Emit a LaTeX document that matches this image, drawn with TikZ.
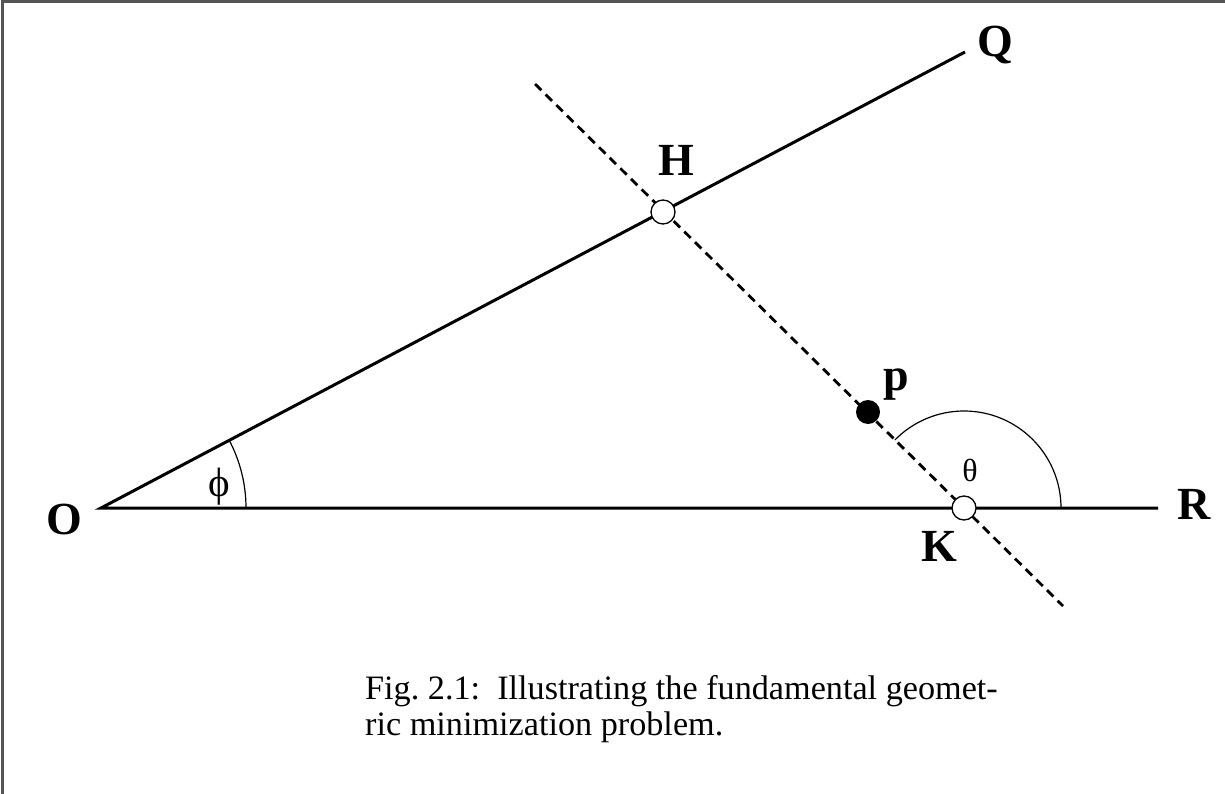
\documentclass[tikz,border=0pt]{standalone}
\usepackage{fontspec}
\setmainfont{Liberation Serif}
\definecolor{framecol}{HTML}{555555}
\tikzset{
  mainline/.style={line width=3pt, line cap=butt},
  dashline/.style={line width=2.8pt, dash pattern=on 9pt off 6pt},
  anglearc/.style={line width=1.2pt},
  opendot/.style={circle, draw, fill=white, line width=1.3pt, minimum size=24pt, inner sep=0pt},
  filldot/.style={circle, fill=black, minimum size=24pt, inner sep=0pt},
  ptlabel/.style={font=\fontsize{46}{50}\selectfont\bfseries, inner sep=0pt, anchor=base},
  greek/.style={font=\fontsize{32}{36}\selectfont, inner sep=0pt, anchor=center},
  captext/.style={font=\fontsize{34.2}{36}\selectfont, inner sep=0pt, anchor=base west}
}
\begin{document}
\begin{tikzpicture}[x=1pt,y=-1pt]
\useasboundingbox (0,0) rectangle (1225,794);
% frame (top and left edges)
\draw[framecol, line width=3pt] (2,794) -- (2,2) -- (1225,2);
% points
\coordinate (O) at (101,508);
\coordinate (R) at (1158,508);
\coordinate (Q) at (965,52);
\coordinate (H) at (663,212);
\coordinate (K) at (964,508);
\coordinate (P) at (868,412);
\coordinate (D1) at (535,84);
\coordinate (D2) at (1063,606);
% dashed line
\draw[dashline] (D1) -- (D2);
% rays
\draw[mainline] (R) -- (O) -- (Q);
% angle arcs
\draw[anglearc] (O) ++(145,0) arc[start angle=0, end angle=-27.8, radius=145];
\draw[anglearc] (K) ++(97,0) arc[start angle=0, end angle=-135.5, radius=97];
% dots
\node[opendot] (h) at (H) {};
\node[opendot] (k) at (K) {};
\node[filldot] (p) at (P) {};
% labels
\node[ptlabel] (lO) at (64.5,534) {O};
\node[ptlabel] (lQ) at (995,57) {Q};
\node[ptlabel] (lH) at (676,176) {H};
\node[ptlabel] (lK) at (939,561) {K};
\node[ptlabel] (lR) at (1194,519) {R};
\node[ptlabel] (lp) at (896,390) {p};
\node[greek, font=\fontsize{41}{44}\selectfont] (lphi) at (219,487) {ϕ};
\node[greek] (ltheta) at (970,470) {θ};
% caption
\node[captext] (cap1) at (365,699.5) {Fig.~2.1:\ \ Illustrating the fundamental geomet-};
\node[captext] (cap2) at (365,735) {ric minimization problem.};
\end{tikzpicture}
\end{document}
